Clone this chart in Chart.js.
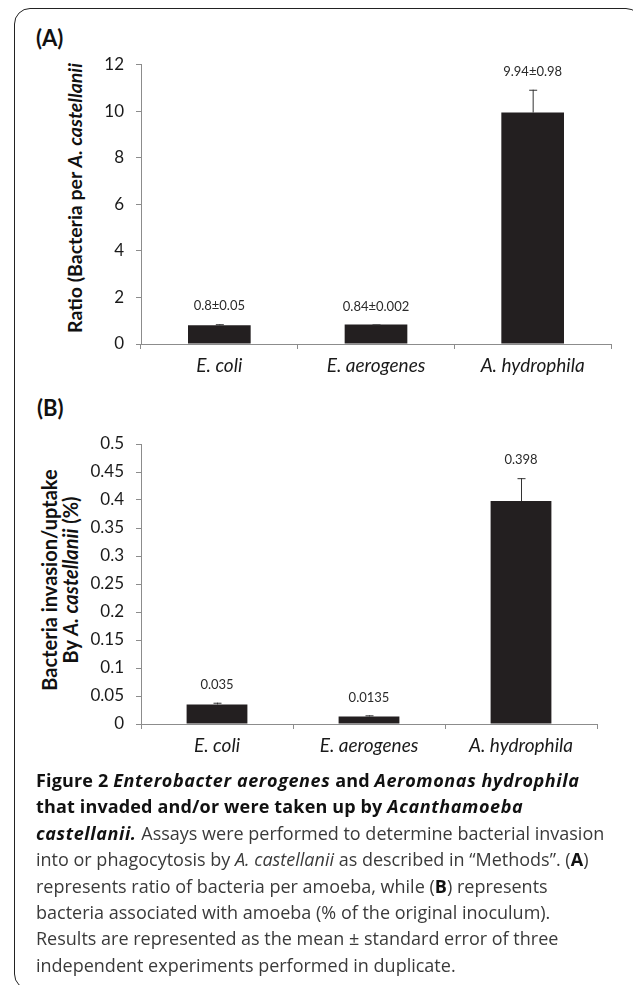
<!DOCTYPE html>
<html>
<head>
<meta charset="utf-8">
<script src="https://cdn.jsdelivr.net/npm/chart.js@4/dist/chart.umd.min.js"></script>
<style>
  html, body { margin:0; padding:0; background:#fff; }
  body { width:633px; height:985px; position:relative; overflow:hidden; font-family: Lato, "Open Sans", sans-serif; }
  #frame { position:absolute; left:14px; top:8px; width:628px; height:982px; border:1.5px solid #222; border-radius:16px; box-sizing:border-box; }
  .cv { position:absolute; left:0; }
  .panel { position:absolute; font-weight:bold; font-size:22px; color:#111; transform:translateY(-50%); }
  .ytitle { position:absolute; font-weight:bold; color:#111; white-space:nowrap; text-align:center; transform:translate(-50%,-50%) rotate(-90deg); }
  #caption { position:absolute; left:36px; top:767px; font-family:"Open Sans", sans-serif; font-size:18px; line-height:26.4px; color:#3a3a3a; white-space:nowrap; }
  #caption b { color:#111; letter-spacing:0.15px; }
  #caption b i { letter-spacing:0.6px; }
</style>
</head>
<body>
<div id="frame"></div>
<div class="panel" style="left:36px;top:37px;">(A)</div>
<div class="panel" style="left:37px;top:407px;">(B)</div>
<div class="ytitle" style="left:75px;top:197.5px;font-size:19.5px;line-height:22px;">Ratio (Bacteria per <i>A. castellanii</i></div>
<div class="ytitle" style="left:60px;top:580px;font-size:20px;line-height:21px;">Bacteria invasion/uptake<br>By <i>A. castellanii</i> (%)</div>
<canvas id="cA" class="cv" style="top:0px;"></canvas>
<canvas id="cB" class="cv" style="top:390px;"></canvas>
<div id="caption"><b>Figure 2 <i>Enterobacter aerogenes</i> and <i>Aeromonas hydrophila</i></b><br><b>that invaded and/or were taken up by <i>Acanthamoeba</i></b><br><b><i>castellanii.</i></b> Assays were performed to determine bacterial invasion<br>into or phagocytosis by <i>A. castellanii</i> as described in “Methods”. (<b>A</b>)<br>represents ratio of bacteria per amoeba, while (<b>B</b>) represents<br>bacteria associated with amoeba (% of the original inoculum).<br>Results are represented as the mean ± standard error of three<br>independent experiments performed in duplicate.</div>
<script>
// ---- data ----
const categories = ['E. coli', 'E. aerogenes', 'A. hydrophila'];
const ratioValues = [0.8, 0.84, 9.94];
const ratioErrors = [0.05, 0.002, 0.98];
const ratioLabels = ['0.8±0.05', '0.84±0.002', '9.94±0.98'];
const ratioTicks = [0, 2, 4, 6, 8, 10, 12];
const uptakeValues = [0.035, 0.0135, 0.398];
const uptakeErrors = [0.003, 0.002, 0.041];
const uptakeLabels = ['0.035', '0.0135', '0.398'];
const uptakeTicks = [0, 0.05, 0.1, 0.15, 0.2, 0.25, 0.3, 0.35, 0.4, 0.45, 0.5];
const uptakeTickLabels = ['0', '0.05', '0.1', '0.15', '0.2', '0.25', '0.3', '0.35', '0.4', '0.45', '0.5'];

const errPlugin = {
  id: 'errLabels',
  afterDatasetsDraw(chart, args, opts) {
    const ctx = chart.ctx;
    const meta = chart.getDatasetMeta(0);
    const ys = chart.scales.y;
    ctx.save();
    meta.data.forEach((bar, i) => {
      const v = opts.values[i], e = opts.errors[i];
      const yTop = ys.getPixelForValue(v + e);
      const yBar = ys.getPixelForValue(v);
      ctx.strokeStyle = '#333';
      ctx.lineWidth = 1;
      ctx.beginPath();
      ctx.moveTo(bar.x + 0.5, yBar);
      ctx.lineTo(bar.x + 0.5, yTop);
      ctx.moveTo(bar.x - 3.5, yTop + 0.5);
      ctx.lineTo(bar.x + 4.5, yTop + 0.5);
      ctx.stroke();
      ctx.fillStyle = '#2a2a2a';
      ctx.font = '13px Lato';
      ctx.textAlign = 'center';
      ctx.textBaseline = 'middle';
      ctx.fillText(opts.labels[i], bar.x, yTop - 18);
    });
    ctx.restore();
  }
};

function makeChart(id, w, h, area, values, errors, labels, tickVals, tickFmt, max) {
  const cv = document.getElementById(id);
  cv.width = w; cv.height = h;
  cv.style.width = w + 'px'; cv.style.height = h + 'px';
  return new Chart(cv, {
    type: 'bar',
    data: { labels: categories, datasets: [{ data: values, backgroundColor: '#231f20', borderWidth: 0, categoryPercentage: 1, barPercentage: 0.4 }] },
    plugins: [errPlugin],
    options: {
      responsive: false, animation: false, devicePixelRatio: 1,
      layout: { padding: { left: 0, top: area.top, right: w - area.right, bottom: 0 } },
      plugins: { legend: { display: false }, tooltip: { enabled: false }, errLabels: { values, errors, labels } },
      scales: {
        x: {
          grid: { display: true, drawOnChartArea: false, drawTicks: true, tickLength: 5, color: '#8c8c8c', offset: true },
          border: { color: '#8c8c8c', width: 1 },
          ticks: { color: '#1a1a1a', font: { family: 'Lato', size: 19, style: 'italic' }, padding: 5, maxRotation: 0 },
          afterFit(s) { s.height = h - area.bottom; }
        },
        y: {
          min: 0, max: max,
          grid: { display: true, drawOnChartArea: false, drawTicks: true, tickLength: 5, color: '#8c8c8c' },
          border: { color: '#8c8c8c', width: 1 },
          afterBuildTicks(s) { s.ticks = tickVals.map(v => ({ value: v })); },
          ticks: { color: '#1a1a1a', font: { family: 'Lato', size: 17 }, padding: 12, callback: tickFmt },
          afterFit(s) { s.width = area.left; }
        }
      }
    }
  });
}

makeChart('cA', 633, 390, { left: 141, right: 611, top: 64.6, bottom: 344 }, ratioValues, ratioErrors, ratioLabels, ratioTicks, (v) => String(v), 12);
makeChart('cB', 633, 380, { left: 141, right: 597, top: 54, bottom: 334 }, uptakeValues, uptakeErrors, uptakeLabels, uptakeTicks, (v) => uptakeTickLabels[uptakeTicks.indexOf(v)] ?? String(v), 0.5);
</script>
</body>
</html>
